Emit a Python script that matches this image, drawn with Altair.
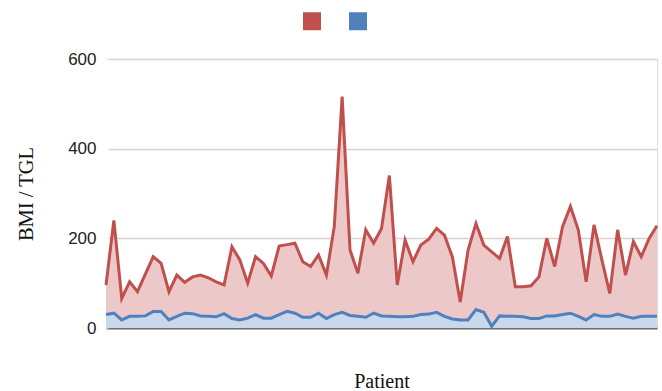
import altair as alt
import pandas as pd

# Triglyceride level (TGL) and body-mass index (BMI) per patient
tgl = [96, 240, 66, 103, 81, 120, 159, 144, 81, 118, 102, 114, 118, 112, 103, 96,
       181, 152, 100, 159, 144, 116, 183, 186, 189, 148, 137, 163, 118, 226, 516,
       174, 122, 219, 189, 222, 340, 96, 196, 148, 185, 198, 222, 207, 159, 58,
       174, 233, 185, 170, 155, 204, 92, 92, 94, 114, 200, 137, 226, 271, 219, 103,
       230, 152, 77, 219, 118, 193, 159, 200, 228]
bmi = [30, 33, 18, 26, 26, 27, 37, 37, 18, 26, 33, 32, 27, 26, 25, 32, 21, 18, 22,
       30, 22, 22, 30, 37, 33, 24, 24, 33, 21, 30, 35, 28, 26, 24, 33, 27, 26, 25,
       25, 26, 30, 31, 35, 26, 20, 18, 18, 41, 35, 4, 27, 26, 26, 25, 21, 21, 27,
       27, 30, 33, 26, 18, 30, 26, 26, 31, 26, 22, 26, 26, 26]
series_names = ["TGL", "BMI"]
line_colors = ["#c0504d", "#4f81bd"]
fill_colors = ["#ecc9c8", "#c9d9eb"]
y_ticks = [0, 200, 400, 600]

patients = list(range(len(tgl)))
df = pd.concat([
    pd.DataFrame({"patient": patients, "value": tgl, "series": "TGL"}),
    pd.DataFrame({"patient": patients, "value": bmi, "series": "BMI"}),
])

serif = "Liberation Serif, Times New Roman, serif"
sans = "Liberation Sans, Arial, sans-serif"

x_enc = alt.X("patient:Q",
              scale=alt.Scale(domain=[0, len(tgl) - 1], nice=False, zero=False),
              axis=alt.Axis(title="Patient", labels=False, ticks=False, grid=False,
                            domain=True, domainColor="#6e6e6e", domainWidth=2,
                            titleFont=serif, titleFontSize=20, titleFontWeight="normal",
                            titleColor="#111", titlePadding=43))
# The left edge gets a wide white axis line so the plot has no visible frame there
y_enc = alt.Y("value:Q",
              scale=alt.Scale(domain=[0, 600], nice=False),
              axis=alt.Axis(title="BMI / TGL", values=y_ticks, ticks=False,
                            domain=True, domainColor="#ffffff", domainWidth=4,
                            grid=True, gridColor="#d4d4d4", gridWidth=1.5,
                            labelFont=sans, labelFontSize=17, labelColor="#222",
                            labelPadding=10,
                            titleFont=serif, titleFontSize=20.5, titleFontWeight="normal",
                            titleColor="#111", titlePadding=31))

base = alt.Chart(df)

area_tgl = base.transform_filter(alt.datum.series == "TGL").mark_area(
    color=fill_colors[0], opacity=1).encode(x=x_enc, y=y_enc)
area_bmi = base.transform_filter(alt.datum.series == "BMI").mark_area(
    color=fill_colors[1], opacity=1).encode(x=x_enc, y=y_enc)

# Legend swatches: small squares with a thick stroke read as solid blocks
lines = base.mark_line(strokeWidth=3, strokeJoin="miter").encode(
    x=x_enc, y=y_enc,
    color=alt.Color("series:N",
                    scale=alt.Scale(domain=series_names, range=line_colors),
                    sort=series_names,
                    legend=alt.Legend(orient="none", direction="horizontal",
                                      legendX=197, legendY=-47, title=None,
                                      symbolType="square", symbolSize=81,
                                      symbolStrokeWidth=9, symbolOpacity=1,
                                      labelExpr="''", labelOffset=0,
                                      columnPadding=0)),
)

chart = alt.layer(area_tgl, area_bmi, lines).properties(
    width=551, height=269,
    autosize=alt.AutoSizeParams(type="none"),
    padding={"left": 106, "top": 59, "right": 5, "bottom": 63},
).configure_view(strokeWidth=0).configure(background="white")

chart.save("out.html", embed_options={"renderer": "svg", "actions": False})
